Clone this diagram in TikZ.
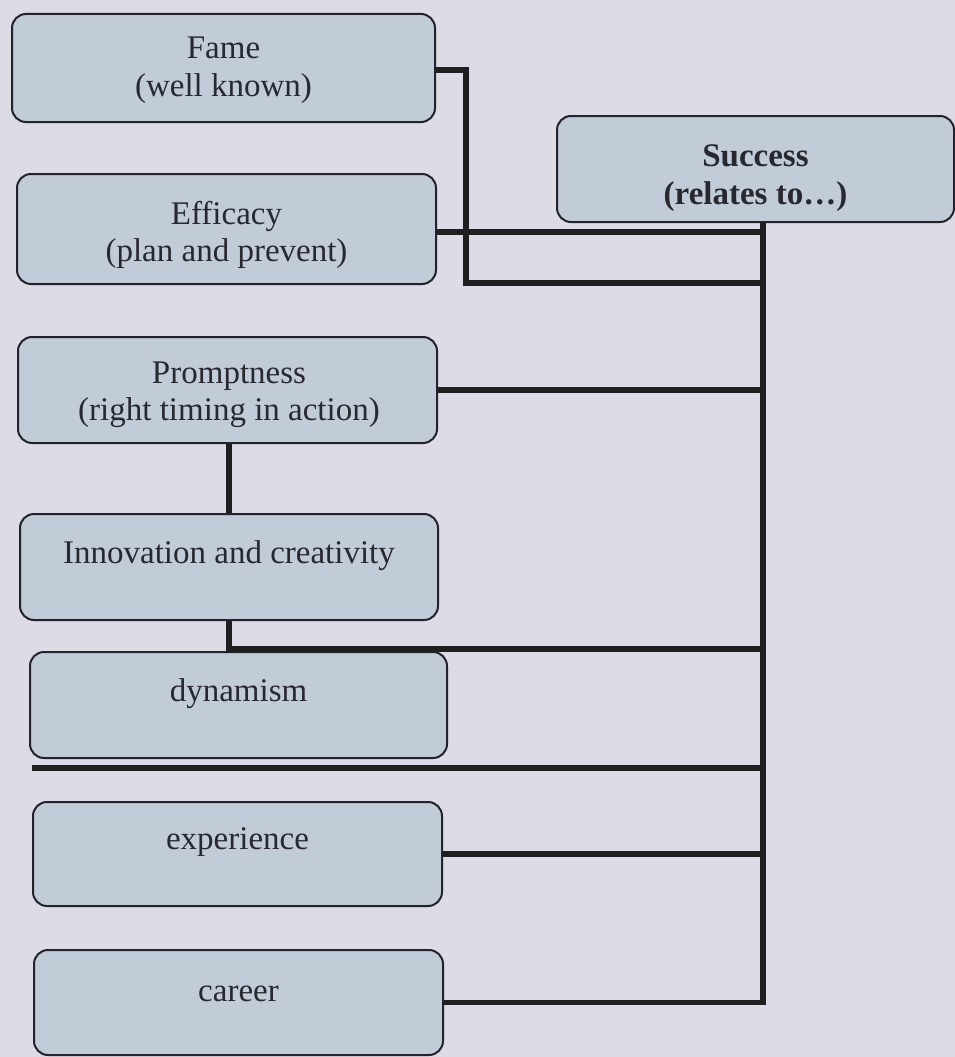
\documentclass[tikz,border=0pt]{standalone}
\usepackage{fontspec}
\setmainfont{Liberation Serif}
\definecolor{bgc}{RGB}{221,219,229}
\definecolor{boxc}{RGB}{193,204,216}
\definecolor{edgec}{RGB}{35,35,45}
\definecolor{txtc}{RGB}{40,40,48}
\begin{document}
\begin{tikzpicture}[x=1pt,y=-1pt,
  box/.style={draw=edgec, line width=2pt, fill=boxc, rounded corners=14pt, inner sep=0pt},
  lbl/.style={text=txtc, align=center, font=\fontsize{33}{37.5}\selectfont, inner sep=0pt},
  conn/.style={draw=black!88, line width=5.2pt}]
\fill[bgc] (0,0) rectangle (955,1057);
\useasboundingbox (0,0) rectangle (955,1057);

% boxes
\node[box, minimum width=423pt, minimum height=108pt] (fame)   at (223.5,68) {};
\node[box, minimum width=419pt, minimum height=110pt] (eff)    at (226.5,229) {};
\node[box, minimum width=397pt, minimum height=106pt] (succ)   at (755.5,169) {};
\node[box, minimum width=419pt, minimum height=106pt] (prompt) at (227.5,390) {};
\node[box, minimum width=418pt, minimum height=106pt] (innov)  at (229,567) {};
\node[box, minimum width=417pt, minimum height=106pt] (dyn)    at (238.5,705) {};
\node[box, minimum width=409pt, minimum height=104pt] (exp)    at (237.5,854) {};
\node[box, minimum width=409pt, minimum height=105pt] (car)    at (238.5,1002.5) {};

% labels
\node[lbl] (fameT)   at (223.5,70) {Fame\\(well known)};
\node[lbl] (effT)    at (226.5,235) {Efficacy\\(plan and prevent)};
\node[lbl, font=\fontsize{33}{37.5}\selectfont\bfseries] (succT) at (755.5,178) {Success\\(relates to\dots)};
\node[lbl] (promptT) at (229,395) {Promptness\\(right timing in action)};
\node[lbl] (innovT)  at (229,556) {Innovation and creativity};
\node[lbl] (dynT)    at (238.5,694) {dynamism};
\node[lbl] (expT)    at (237.5,842) {experience};
\node[lbl] (carT)    at (238.5,994) {career};

% connector coordinates
\coordinate (top)  at (763,222);
\coordinate (jf)   at (763,283);
\coordinate (ji)   at (763,649);
\coordinate (sepL) at (32,768);
\coordinate (sepR) at (763,768);

% connectors
\draw[conn] (car.east) -| (top);
\draw[conn] ([yshift=-2pt]fame.east) -- ++(30,0) |- (jf);
\draw[conn] ([yshift=-3pt]eff.east) -- ([yshift=-3pt]eff.east -| top);
\draw[conn] (prompt.east) -- (prompt.east -| top);
\draw[conn] (innov.north) -- (innov.north |- prompt.south);
\draw[conn] (innov.south) |- (ji);
\draw[conn] (sepL) -- (sepR);
\draw[conn] (exp.east) -- (exp.east -| top);
\end{tikzpicture}
\end{document}
